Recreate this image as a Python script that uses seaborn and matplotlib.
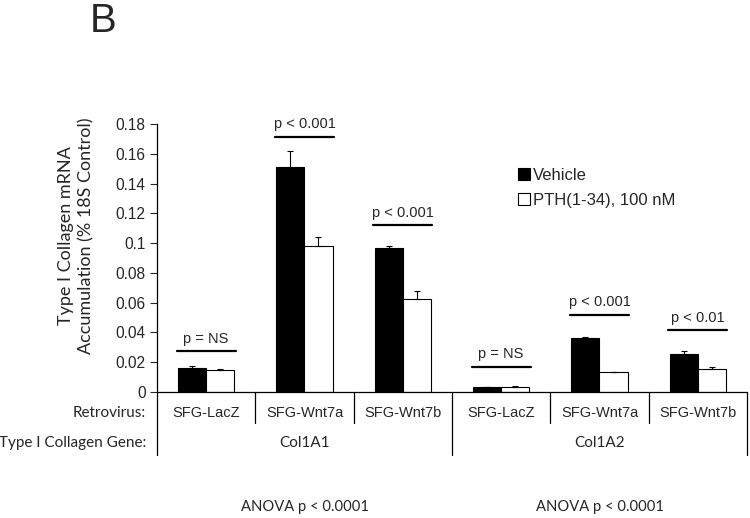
import numpy as np
import pandas as pd
import seaborn as sns
import matplotlib.pyplot as plt
from matplotlib.patches import Patch

# values
genes = ['Col1A1', 'Col1A2']
viruses = ['SFG-LacZ', 'SFG-Wnt7a', 'SFG-Wnt7b']
treatments = ['Vehicle', 'PTH(1-34), 100 nM']

vehicle = [0.0161, 0.1513, 0.0969, 0.0031, 0.0360, 0.0258]
vehicle_err = [0.0014, 0.0105, 0.0013, 0.0003, 0.0009, 0.0015]
pth = [0.0148, 0.0983, 0.0627, 0.0036, 0.0134, 0.0157]
pth_err = [0.0004, 0.0056, 0.0049, 0.0002, 0.0002, 0.0010]

sig_labels = ['p = NS', 'p < 0.001', 'p < 0.001', 'p = NS', 'p < 0.001', 'p < 0.01']
sig_line_y = [0.0273, 0.1715, 0.112, 0.017, 0.0517, 0.0416]
anova_labels = ['ANOVA p < 0.0001', 'ANOVA p < 0.0001']

groups = [f'{g} {v}' for g in genes for v in viruses]
df = pd.DataFrame({
    'group': groups * 2,
    'treatment': [treatments[0]] * 6 + [treatments[1]] * 6,
    'value': vehicle + pth,
})

sns.set_style('white')
plt.rcParams['font.family'] = ['Liberation Sans', 'DejaVu Sans']
calibri_like = ['Lato', 'DejaVu Sans']

fig = plt.figure(figsize=(7.5, 5.18), dpi=100)
ax = fig.add_axes([0.2093, 0.2432, 0.7867, 0.5174])

sns.barplot(data=df, x='group', y='value', hue='treatment', order=groups,
            hue_order=treatments, palette=['black', 'white'], edgecolor='black',
            linewidth=0.8, width=0.57, errorbar=None, legend=False, ax=ax)

# upper-only error bars, Excel style
for cont, errs in zip(ax.containers, [vehicle_err, pth_err]):
    xs = [p.get_x() + p.get_width() / 2 for p in cont]
    ys = [p.get_height() for p in cont]
    ax.errorbar(xs, ys, yerr=[np.zeros(len(errs)), errs], fmt='none',
                ecolor='black', elinewidth=0.8, capsize=2, capthick=0.8)

# significance lines + labels
for i, (lab, yl) in enumerate(zip(sig_labels, sig_line_y)):
    ax.plot([i - 0.3, i + 0.3], [yl, yl], color='black', lw=1.6)
    ax.annotate(lab, (i, yl), xytext=(0, 4), textcoords='offset points',
                ha='center', va='bottom', fontsize=10.5)

ax.set_xlim(-0.5, 5.5)
ax.set_ylim(0, 0.18)
ticks = np.round(np.arange(0, 0.181, 0.02), 2)
ax.set_yticks(ticks)
ax.set_yticklabels([f'{t:g}' for t in ticks], fontsize=11.2)
ax.tick_params(axis='y', direction='out', length=5, width=0.8, left=True, pad=3)
ax.set_xticks([])
ax.set_xlabel('')
ax.set_ylabel('')
sns.despine(ax=ax)
for s in ['left', 'bottom']:
    ax.spines[s].set_linewidth(0.9)
    ax.spines[s].set_color('black')

fig.text(76 / 750, 1 - 236 / 518, 'Type I Collagen mRNA\nAccumulation (% 18S Control)',
         rotation=90, ha='center', va='center', fontsize=13,
         family=calibri_like, linespacing=1.35)

# table below the axis
trans = ax.get_xaxis_transform()
for i, v in enumerate(viruses * 2):
    ax.text(i, -0.0784, v, transform=trans, ha='center', va='center', fontsize=10.5)
for j, g in enumerate(genes):
    ax.text(3 * j + 1, -0.19, g, transform=trans, ha='center', va='center',
            fontsize=11, family=calibri_like)
    ax.text(3 * j + 1, -0.429, anova_labels[j], transform=trans, ha='center',
            va='center', fontsize=10.6, family=calibri_like)
for b in np.arange(-0.5, 6, 1):
    bottom = -0.235 if b in (-0.5, 2.5, 5.5) else -0.1157
    ax.plot([b, b], [0, bottom], transform=trans, color='black', lw=0.9, clip_on=False)

ax.text(-0.0186, -0.0784, 'Retrovirus:', transform=ax.transAxes, ha='right',
        va='center', fontsize=11, family=calibri_like)
ax.text(-0.0186, -0.19, 'Type I Collagen Gene:', transform=ax.transAxes, ha='right',
        va='center', fontsize=11, family=calibri_like)

handles = [Patch(facecolor='black', edgecolor='black', lw=0.8),
           Patch(facecolor='white', edgecolor='black', lw=0.8)]
ax.legend(handles, treatments, loc='upper left', bbox_to_anchor=(0.612, 0.837),
          frameon=False, handlelength=0.7, handleheight=0.7, handletextpad=0.22,
          borderpad=0, borderaxespad=0, labelspacing=0.6, fontsize=12)

fig.text(90 / 750, 1 - 2 / 518, 'B', ha='left', va='top', fontsize=29)

fig.savefig('out.png', dpi=100)
